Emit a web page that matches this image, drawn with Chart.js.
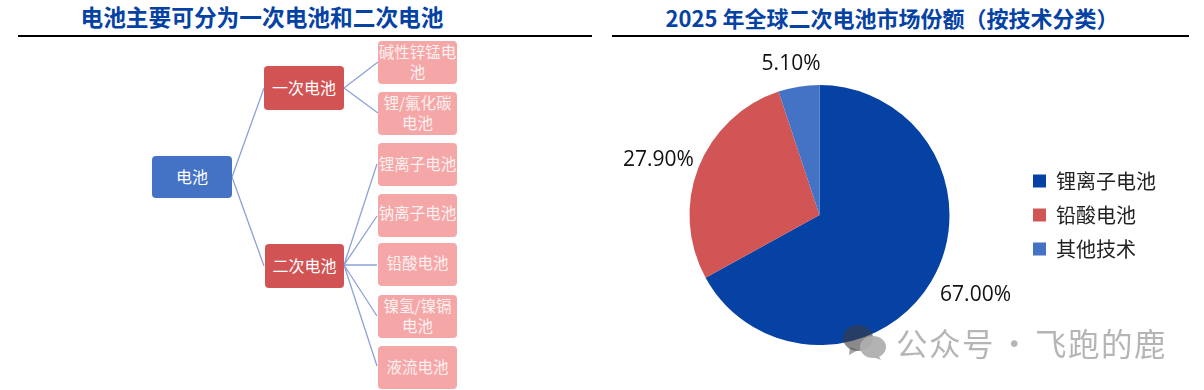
<!DOCTYPE html>
<html>
<head>
<meta charset="utf-8">
<script src="https://cdn.jsdelivr.net/npm/chart.js@4/dist/chart.umd.min.js"></script>
<style>
    html, body { margin: 0; padding: 0; background: #fff; }
    body { position: relative; width: 1204px; height: 390px; overflow: hidden; font-family: "Noto Sans CJK SC", sans-serif; }
    .title { position: absolute; top: 2px; height: 30px; line-height: 30px; text-align: center; color: #0542a3; font-weight: 700; white-space: nowrap; }
    .rule { position: absolute; top: 35px; height: 2px; background: #000; }
    .box { position: absolute; display: flex; align-items: center; justify-content: center; text-align: center; color: #fff; box-sizing: border-box; border-radius: 4px; padding-bottom: 3px; }
    .root { background: #4472c4; font-size: 16px; }
    .mid { background: #d25353; font-size: 16px; }
    .leaf { background: #f5a6a6; color: #fdf1f1; font-size: 15.5px; line-height: 20px; left: 378px; width: 79px; height: 43px; }
    #tree { position: absolute; left: 0; top: 0; }
    #pie { position: absolute; left: 620px; top: 45px; }
    .mark { position: absolute; left: 896px; top: 323px; font-size: 31.5px; line-height: 38px; letter-spacing: 1.5px; word-spacing: -5px; color: rgba(120,120,120,0.55); white-space: nowrap; }
    #wx { position: absolute; left: 842px; top: 322px; }
</style>
</head>
<body>
<div class="title" style="left:18px;width:488px;font-size:22.7px;">电池主要可分为一次电池和二次电池</div>
<div class="rule" style="left:18px;width:574px;"></div>
<div class="title" style="left:612px;width:560px;font-size:22px;">2025 年全球二次电池市场份额（按技术分类）</div>
<div class="rule" style="left:612px;width:577px;"></div>

<svg id="tree" width="600" height="390">
    <g stroke="#8ea2d8" stroke-width="1.3" fill="none">
        <path d="M232 177L264 88M232 177L264 266"/>
        <path d="M344 88L378 62M344 88L378 113"/>
        <path d="M344 265L377 164M344 265L377 216M344 265L377 265M344 265L377 316M344 265L377 366"/>
    </g>
</svg>
<div class="box root" style="left:152px;top:156px;width:80px;height:42px;">电池</div>
<div class="box mid" style="left:264px;top:66px;width:80px;height:44px;">一次电池</div>
<div class="box mid" style="left:265px;top:244px;width:79px;height:44px;">二次电池</div>
<div class="box leaf" style="top:41px;">碱性锌锰电池</div>
<div class="box leaf" style="top:92px;">锂/氟化碳<br>电池</div>
<div class="box leaf" style="top:143px;">锂离子电池</div>
<div class="box leaf" style="top:194px;padding-bottom:8px;">钠离子电池</div>
<div class="box leaf" style="top:243px;padding-bottom:5px;">铅酸电池</div>
<div class="box leaf" style="top:295px;">镍氢/镍镉<br>电池</div>
<div class="box leaf" style="top:346px;">液流电池</div>

<canvas id="pie" width="546" height="340"></canvas>

<svg id="wx" width="46" height="40">
    <ellipse cx="16" cy="16" rx="15" ry="13" fill="rgba(60,60,60,0.6)"/>
    <path d="M8 25L7 33L16 28Z" fill="rgba(90,90,90,0.55)"/>
    <ellipse cx="31" cy="25" rx="13" ry="11" fill="rgba(175,175,175,0.95)"/>
    <path d="M36 33L39 38L31 35Z" fill="rgba(175,175,175,0.95)"/>
</svg>
<div class="mark">公众号 · 飞跑的鹿</div>

<script>
    const categories = ['锂离子电池', '铅酸电池', '其他技术'];
    const shares = [67.0, 27.9, 5.1];
    const sliceColors = ['#0542a3', '#d25555', '#4472c4'];

    // 百分比标签画在饼外面
    const outsideLabels = {
        id: 'outsideLabels',
        afterDraw(chart) {
            const ctx = chart.ctx;
            const offsets = [[8, -8], [-1, 8], [-1, 19]];
            ctx.save();
            ctx.font = '21px "Open Sans"';
            ctx.fillStyle = '#111';
            ctx.textAlign = 'center';
            ctx.textBaseline = 'middle';
            chart.getDatasetMeta(0).data.forEach(function (arc, i) {
                const mid = (arc.startAngle + arc.endAngle) / 2;
                const r = arc.outerRadius + 42;
                const x = arc.x + Math.cos(mid) * r + offsets[i][0];
                const y = arc.y + Math.sin(mid) * r + offsets[i][1];
                ctx.fillText(shares[i].toFixed(2) + '%', x, y);
            });
            ctx.restore();
        }
    };

    new Chart(document.getElementById('pie'), {
        type: 'pie',
        data: {
            labels: categories,
            datasets: [{
                data: shares,
                backgroundColor: sliceColors,
                borderWidth: 0
            }]
        },
        options: {
            responsive: false,
            animation: false,
            layout: { padding: { top: 40, bottom: 40 } },
            plugins: {
                tooltip: { enabled: false },
                legend: {
                    position: 'right',
                    labels: {
                        color: '#222',
                        font: { family: '"Noto Sans CJK SC"', size: 20 },
                        usePointStyle: true,
                        pointStyle: 'rect',
                        boxWidth: 13,
                        boxHeight: 13,
                        padding: 14
                    }
                }
            }
        },
        plugins: [outsideLabels]
    });
</script>
</body>
</html>
